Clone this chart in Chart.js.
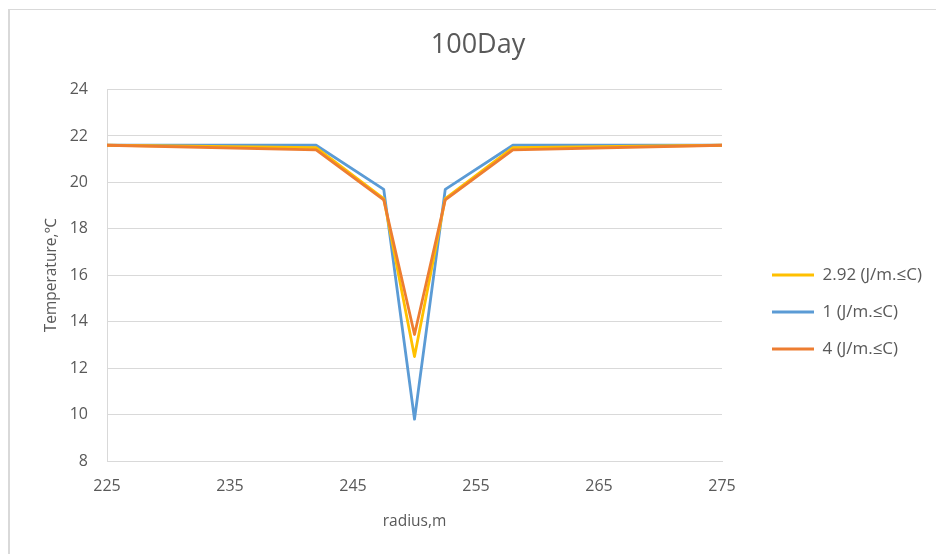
<!DOCTYPE html>
<html>
<head>
<meta charset="utf-8">
<script src="https://cdn.jsdelivr.net/npm/chart.js@4.4.1/dist/chart.umd.min.js"></script>
<style>
  html, body { margin: 0; padding: 0; background: #ffffff; }
  #wrap { position: relative; width: 936px; height: 554px; overflow: hidden; }
  #frame {
    position: absolute; left: 8px; top: 9px; right: -2px; bottom: -2px;
    border-top: 1px solid #d9d9d9; border-left: 2px solid #d9d9d9;
    pointer-events: none;
  }
  canvas { display: block; }
</style>
</head>
<body>
<div id="wrap">
  <canvas id="chart" width="936" height="554"></canvas>
  <div id="frame"></div>
</div>
<script>
// radius (m) sampled across the well
const radius = [225, 242, 247.5, 250, 252.5, 258, 275];

// temperature (°C) after 100 days for each thermal conductivity
const tempK292 = [21.6, 21.5, 19.3, 12.5, 19.3, 21.5, 21.6];
const tempK1   = [21.6, 21.6, 19.7, 9.8, 19.7, 21.6, 21.6];
const tempK4   = [21.6, 21.4, 19.25, 13.45, 19.25, 21.4, 21.6];

const seriesLabels = ['2.92 (J/m.≤C)', '1 (J/m.≤C)', '4 (J/m.≤C)'];
const xTicks = [225, 235, 245, 255, 265, 275];
const yTicks = [8, 10, 12, 14, 16, 18, 20, 22, 24];

const FONT = '"Open Sans", "Noto Sans", sans-serif';
const TEXT = '#595959';
const GRID = '#d9d9d9';

const LEGEND_WIDTH = 214;   // room reserved on the right for the legend
const LEGEND_SHIFT = { x: 30, y: 35 };

const toPoints = ys => radius.map((r, i) => ({ x: r, y: ys[i] }));

// Reserve a fixed-width legend column and offset its items inside it.
const legendPlacement = {
  id: 'legendPlacement',
  beforeLayout(chart) {
    const lg = chart.legend;
    if (lg && !lg._fixedWidth) {
      const fit = lg.fit;
      lg.fit = function () { fit.call(this); this.width = LEGEND_WIDTH; };
      lg._fixedWidth = true;
    }
  },
  afterLayout(chart) {
    const lg = chart.legend;
    if (!lg) return;
    lg.left += LEGEND_SHIFT.x; lg.right += LEGEND_SHIFT.x;
    lg.top += LEGEND_SHIFT.y; lg.bottom += LEGEND_SHIFT.y;
  }
};

new Chart(document.getElementById('chart'), {
  type: 'line',
  data: {
    datasets: [
      { label: seriesLabels[0], data: toPoints(tempK292), borderColor: '#FFC000', backgroundColor: '#FFC000', order: 1 },
      { label: seriesLabels[1], data: toPoints(tempK1),   borderColor: '#5B9BD5', backgroundColor: '#5B9BD5', order: 2 },
      { label: seriesLabels[2], data: toPoints(tempK4),   borderColor: '#ED7D31', backgroundColor: '#ED7D31', order: 0 }
    ]
  },
  options: {
    responsive: false,
    animation: false,
    devicePixelRatio: 1,
    datasets: {
      line: { borderWidth: 2.8, pointRadius: 0, tension: 0, borderJoinStyle: 'round', borderCapStyle: 'round' }
    },
    layout: { padding: { left: 20, right: 0, top: 0, bottom: 0 } },
    plugins: {
      title: {
        display: true,
        text: '100Day',
        color: TEXT,
        font: { family: FONT, size: 27, weight: 'normal' },
        padding: { top: 29.5, bottom: 27.6 }
      },
      legend: {
        position: 'right',
        labels: {
          color: TEXT,
          font: { family: FONT, size: 17 },
          usePointStyle: true,
          pointStyle: 'line',
          pointStyleWidth: 42,
          boxWidth: 42,
          padding: 20,
          sort: (a, b) => a.datasetIndex - b.datasetIndex
        }
      },
      tooltip: { enabled: false }
    },
    scales: {
      x: {
        type: 'linear',
        min: 225,
        max: 275,
        afterBuildTicks: s => { s.ticks = xTicks.map(v => ({ value: v })); },
        afterFit: s => { s.height = 93; },
        grid: { display: false, drawTicks: false },
        border: { display: true, color: GRID, width: 1 },
        ticks: { color: TEXT, font: { family: FONT, size: 16 }, padding: 16, maxRotation: 0 },
        title: {
          display: true, text: 'radius,m', color: TEXT,
          font: { family: FONT, size: 15.5 }, padding: { top: 0, bottom: 23 }
        }
      },
      y: {
        min: 8,
        max: 24,
        afterBuildTicks: s => { s.ticks = yTicks.map(v => ({ value: v })); },
        afterFit: s => { s.width = 87; },
        grid: { color: GRID, lineWidth: 1, drawTicks: false },
        border: { display: true, color: GRID, width: 1 },
        ticks: { color: TEXT, font: { family: FONT, size: 16 }, padding: 19 },
        title: {
          display: true, text: 'Temperature,℃', color: TEXT,
          font: { family: FONT, size: 15.5 }, padding: { top: 22.7, bottom: 0 }
        }
      }
    }
  },
  plugins: [legendPlacement]
});
</script>
</body>
</html>
